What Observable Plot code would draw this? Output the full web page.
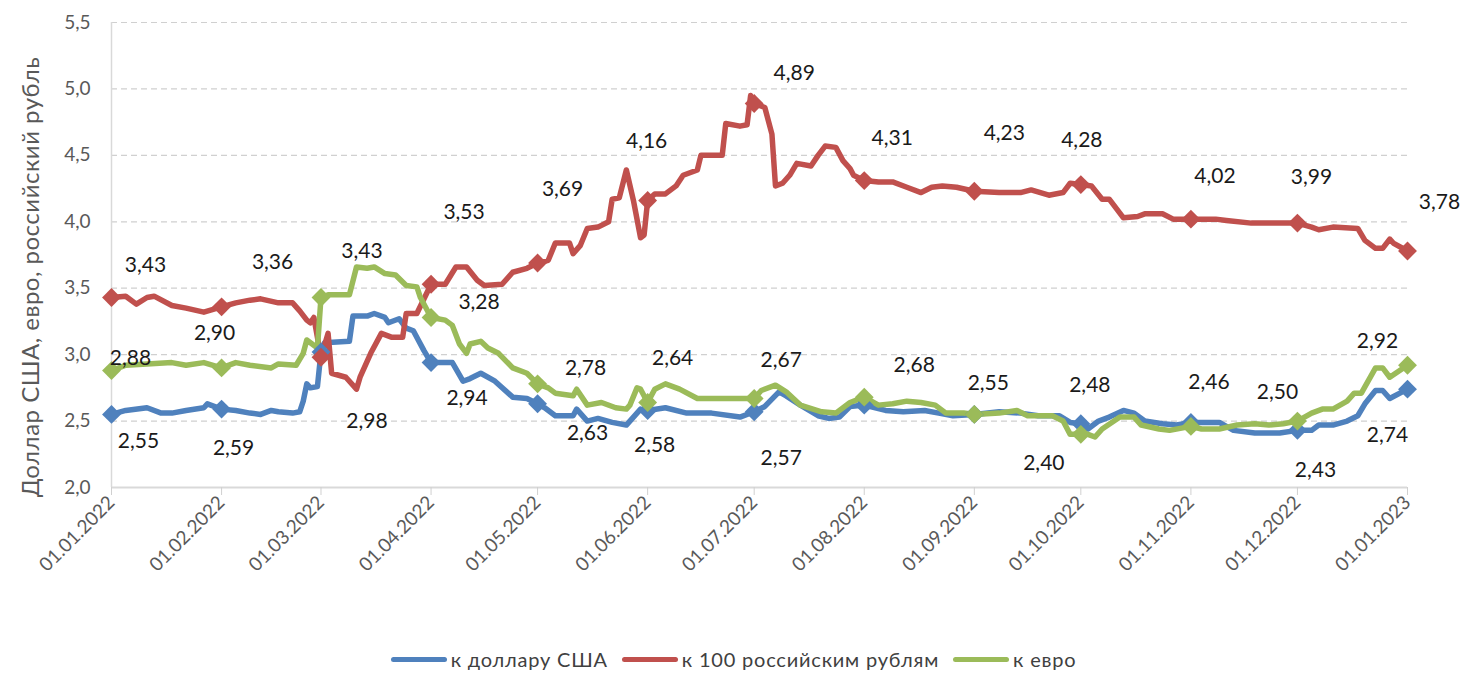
<!DOCTYPE html>
<html>
<head>
<meta charset="utf-8">
<script src="https://cdn.jsdelivr.net/npm/d3@7"></script>
<script src="https://cdn.jsdelivr.net/npm/@observablehq/plot@0.6"></script>
<style>
  html, body { margin: 0; padding: 0; background: #fff; }
  #wrap { width: 1467px; height: 673px; position: relative; font-family: Lato, "Open Sans", sans-serif; }
  #legend { position: absolute; left: 0; top: 647px; width: 1467px; display: flex; justify-content: center; align-items: center; gap: 14px; font-size: 20px; color: #404040; letter-spacing: 0.8px; }
  .item { display: flex; align-items: center; gap: 4px; }
  .sw { display: inline-block; width: 56px; height: 5px; border-radius: 3px; }
</style>
</head>
<body>
<div id="wrap"><div id="chart"></div><div id="legend"></div></div>
<script>
// ---------- DATA ----------
const seriesNames = ["к доллару США", "к 100 российским рублям", "к евро"];
const seriesColors = ["#4F81BD", "#C0504D", "#9BBB59"];
const yTicks = [2.0, 2.5, 3.0, 3.5, 4.0, 4.5, 5.0, 5.5];
const monthTicks = ["2022-01-01","2022-02-01","2022-03-01","2022-04-01","2022-05-01","2022-06-01","2022-07-01","2022-08-01","2022-09-01","2022-10-01","2022-11-01","2022-12-01","2023-01-01"];
const yAxisTitle = "Доллар США, евро, российский рубль";

const usd = [
  ["2022-01-01",2.55],["2022-01-05",2.58],["2022-01-11",2.60],["2022-01-15",2.56],["2022-01-18",2.56],["2022-01-22",2.58],["2022-01-27",2.60],["2022-01-28",2.63],
  ["2022-02-01",2.59],["2022-02-05",2.58],["2022-02-09",2.56],["2022-02-12",2.55],["2022-02-15",2.58],["2022-02-17",2.57],["2022-02-21",2.56],["2022-02-23",2.57],["2022-02-24",2.65],["2022-02-25",2.78],["2022-02-26",2.75],["2022-02-28",2.76],
  ["2022-03-01",3.02],["2022-03-02",3.09],["2022-03-09",3.10],["2022-03-10",3.29],["2022-03-14",3.29],["2022-03-16",3.31],["2022-03-19",3.28],["2022-03-20",3.24],["2022-03-23",3.27],["2022-03-25",3.20],["2022-03-27",3.18],["2022-03-30",3.03],
  ["2022-04-01",2.94],["2022-04-07",2.94],["2022-04-10",2.80],["2022-04-12",2.82],["2022-04-15",2.86],["2022-04-19",2.80],["2022-04-24",2.68],["2022-04-28",2.67],
  ["2022-05-01",2.63],["2022-05-03",2.60],["2022-05-06",2.54],["2022-05-11",2.54],["2022-05-12",2.59],["2022-05-15",2.50],["2022-05-18",2.52],["2022-05-22",2.49],["2022-05-26",2.47],["2022-05-30",2.59],
  ["2022-06-01",2.58],["2022-06-06",2.60],["2022-06-12",2.56],["2022-06-19",2.56],["2022-06-27",2.53],
  ["2022-07-01",2.57],["2022-07-04",2.61],["2022-07-08",2.72],["2022-07-10",2.69],["2022-07-14",2.62],["2022-07-19",2.54],["2022-07-22",2.52],["2022-07-25",2.53],["2022-07-28",2.61],
  ["2022-08-01",2.62],["2022-08-07",2.58],["2022-08-12",2.57],["2022-08-18",2.58],["2022-08-22",2.56],["2022-08-26",2.54],
  ["2022-09-01",2.55],["2022-09-08",2.57],["2022-09-14",2.56],["2022-09-19",2.54],["2022-09-25",2.54],["2022-09-28",2.49],
  ["2022-10-01",2.48],["2022-10-03",2.44],["2022-10-06",2.50],["2022-10-09",2.53],["2022-10-13",2.58],["2022-10-16",2.56],["2022-10-19",2.50],["2022-10-24",2.48],["2022-10-28",2.47],
  ["2022-11-01",2.49],["2022-11-04",2.49],["2022-11-09",2.49],["2022-11-13",2.43],["2022-11-19",2.41],["2022-11-26",2.41],
  ["2022-12-01",2.43],["2022-12-05",2.43],["2022-12-07",2.47],["2022-12-11",2.47],["2022-12-15",2.50],["2022-12-18",2.54],["2022-12-20",2.63],["2022-12-23",2.73],["2022-12-25",2.73],["2022-12-27",2.67],
  ["2023-01-01",2.74]
];

const rub = [
  ["2022-01-01",3.43],["2022-01-05",3.44],["2022-01-08",3.38],["2022-01-11",3.43],["2022-01-13",3.44],["2022-01-18",3.37],["2022-01-22",3.35],["2022-01-27",3.32],
  ["2022-02-01",3.36],["2022-02-05",3.39],["2022-02-09",3.41],["2022-02-12",3.42],["2022-02-17",3.39],["2022-02-21",3.39],["2022-02-23",3.33],["2022-02-25",3.26],["2022-02-26",3.24],["2022-02-27",3.28],
  ["2022-03-01",2.98],["2022-03-03",3.16],["2022-03-04",2.86],["2022-03-08",2.83],["2022-03-11",2.74],["2022-03-12",2.83],["2022-03-15",3.01],["2022-03-18",3.16],["2022-03-21",3.13],["2022-03-24",3.13],["2022-03-25",3.31],["2022-03-28",3.31],
  ["2022-04-01",3.53],["2022-04-05",3.53],["2022-04-08",3.66],["2022-04-11",3.66],["2022-04-14",3.56],["2022-04-16",3.52],["2022-04-21",3.53],["2022-04-24",3.62],["2022-04-28",3.65],
  ["2022-05-01",3.69],["2022-05-04",3.71],["2022-05-06",3.84],["2022-05-10",3.84],["2022-05-11",3.76],["2022-05-13",3.82],["2022-05-15",3.95],["2022-05-18",3.96],["2022-05-21",4.00],["2022-05-22",4.17],["2022-05-24",4.18],["2022-05-26",4.39],["2022-05-28",4.16],["2022-05-30",3.88],["2022-05-31",3.90],
  ["2022-06-01",4.16],["2022-06-03",4.21],["2022-06-06",4.21],["2022-06-09",4.27],["2022-06-11",4.35],["2022-06-15",4.39],["2022-06-16",4.50],["2022-06-22",4.50],["2022-06-23",4.74],["2022-06-27",4.72],["2022-06-29",4.73],["2022-06-30",4.95],
  ["2022-07-01",4.89],["2022-07-04",4.86],["2022-07-06",4.66],["2022-07-07",4.27],["2022-07-09",4.29],["2022-07-11",4.35],["2022-07-13",4.44],["2022-07-17",4.42],["2022-07-19",4.50],["2022-07-21",4.57],["2022-07-24",4.56],["2022-07-26",4.46],["2022-07-28",4.40],["2022-07-29",4.35],
  ["2022-08-01",4.31],["2022-08-05",4.30],["2022-08-09",4.30],["2022-08-13",4.26],["2022-08-17",4.22],["2022-08-20",4.26],["2022-08-23",4.27],["2022-08-27",4.26],
  ["2022-09-01",4.23],["2022-09-08",4.22],["2022-09-14",4.22],["2022-09-17",4.24],["2022-09-22",4.20],["2022-09-26",4.22],["2022-09-28",4.29],
  ["2022-10-01",4.28],["2022-10-04",4.27],["2022-10-07",4.17],["2022-10-09",4.17],["2022-10-13",4.03],["2022-10-17",4.04],["2022-10-19",4.06],["2022-10-24",4.06],["2022-10-27",4.02],
  ["2022-11-01",4.02],["2022-11-08",4.02],["2022-11-11",4.01],["2022-11-18",3.99],["2022-11-22",3.99],
  ["2022-12-01",3.99],["2022-12-05",3.96],["2022-12-07",3.94],["2022-12-11",3.96],["2022-12-18",3.95],["2022-12-20",3.86],["2022-12-23",3.80],["2022-12-25",3.80],["2022-12-27",3.87],["2022-12-28",3.84],
  ["2023-01-01",3.78]
];

const eur = [
  ["2022-01-01",2.88],["2022-01-05",2.92],["2022-01-11",2.93],["2022-01-18",2.94],["2022-01-22",2.92],["2022-01-27",2.94],
  ["2022-02-01",2.90],["2022-02-05",2.94],["2022-02-09",2.92],["2022-02-15",2.90],["2022-02-17",2.93],["2022-02-22",2.92],["2022-02-24",3.01],["2022-02-25",3.11],["2022-02-28",3.05],
  ["2022-03-01",3.43],["2022-03-03",3.45],["2022-03-09",3.45],["2022-03-11",3.66],["2022-03-14",3.65],["2022-03-16",3.66],["2022-03-19",3.61],["2022-03-22",3.60],["2022-03-25",3.52],["2022-03-28",3.51],["2022-03-29",3.43],
  ["2022-04-01",3.28],["2022-04-05",3.26],["2022-04-07",3.22],["2022-04-09",3.08],["2022-04-11",3.01],["2022-04-12",3.08],["2022-04-15",3.10],["2022-04-17",3.05],["2022-04-20",3.01],["2022-04-24",2.90],["2022-04-28",2.86],
  ["2022-05-01",2.78],["2022-05-04",2.75],["2022-05-06",2.71],["2022-05-11",2.69],["2022-05-12",2.74],["2022-05-15",2.62],["2022-05-19",2.64],["2022-05-23",2.60],["2022-05-26",2.59],["2022-05-27",2.62],["2022-05-29",2.75],["2022-05-30",2.74],
  ["2022-06-01",2.64],["2022-06-03",2.74],["2022-06-06",2.78],["2022-06-10",2.74],["2022-06-15",2.67],["2022-06-21",2.67],["2022-06-27",2.67],
  ["2022-07-01",2.67],["2022-07-03",2.73],["2022-07-07",2.77],["2022-07-10",2.72],["2022-07-14",2.62],["2022-07-20",2.57],["2022-07-24",2.56],["2022-07-28",2.64],
  ["2022-08-01",2.68],["2022-08-05",2.62],["2022-08-09",2.63],["2022-08-13",2.65],["2022-08-17",2.64],["2022-08-21",2.62],["2022-08-24",2.56],["2022-08-29",2.56],
  ["2022-09-01",2.55],["2022-09-08",2.56],["2022-09-13",2.58],["2022-09-16",2.54],["2022-09-23",2.54],["2022-09-26",2.50],["2022-09-28",2.40],
  ["2022-10-01",2.40],["2022-10-03",2.40],["2022-10-05",2.38],["2022-10-07",2.44],["2022-10-12",2.53],["2022-10-16",2.53],["2022-10-18",2.47],["2022-10-23",2.44],["2022-10-26",2.43],
  ["2022-11-01",2.46],["2022-11-04",2.44],["2022-11-09",2.44],["2022-11-14",2.47],["2022-11-19",2.48],["2022-11-23",2.47],["2022-11-27",2.48],
  ["2022-12-01",2.50],["2022-12-05",2.56],["2022-12-08",2.59],["2022-12-11",2.59],["2022-12-15",2.65],["2022-12-17",2.71],["2022-12-19",2.71],["2022-12-23",2.90],["2022-12-25",2.90],["2022-12-27",2.83],
  ["2023-01-01",2.92]
];

// months whose value carries a data label
const usdLabelDates = ["2022-01-01","2022-02-01","2022-04-01","2022-05-01","2022-06-01","2022-07-01","2022-10-01","2022-12-01","2023-01-01"];
const rubLabelDates = monthTicks;
const eurLabelDates = monthTicks;

// ---------- LAYOUT (label nudges in px, same order as the label dates) ----------
const usdLabelNudge = [[27,27],[12,39],[36,36],[50,29],[7,35],[27,46],[9,-38],[18,40],[-20,46]];
const rubLabelNudge = [[34,-32],[51,-45],[46,64],[33,-72],[25,-74],[-1,-59],[40,-30],[28,-42],[30,-58],[1,-44],[24,-43],[14,-46],[32,-49]];
const eurLabelNudge = [[19,-12],[-7,-35],[41,-46],[48,-15],[48,-16],[25,-44],[27,-38],[50,-32],[14,-31],[-37,29],[18,-44],[-20,-29],[-30,-24]];

// ---------- BUILD ----------
const parse = d3.utcParse("%Y-%m-%d");
const toRows = (arr) => arr.map(([d, v]) => ({date: parse(d), value: v}));
const series = [toRows(usd), toRows(rub), toRows(eur)];
const monthSet = new Set(monthTicks);
const markerRows = [usd, rub, eur].map(arr => arr.filter(([d]) => monthSet.has(d)).map(([d, v]) => ({date: parse(d), value: v})));
const fmt = v => v.toFixed(2).replace(".", ",");
const fmtY = v => v.toFixed(1).replace(".", ",");

const labelMarks = [];
[[usd, usdLabelDates, usdLabelNudge], [rub, rubLabelDates, rubLabelNudge], [eur, eurLabelDates, eurLabelNudge]].forEach(([arr, dates, nudge]) => {
  dates.forEach((d, i) => {
    const row = arr.find(r => r[0] === d);
    if (!row) return;
    labelMarks.push(Plot.text([{date: parse(d), value: row[1]}], {
      x: "date", y: "value", text: r => fmt(r.value),
      dx: nudge[i][0], dy: nudge[i][1],
      fontSize: 21, fill: "#1a1a1a", letterSpacing: "1px"
    }));
  });
});

const chart = Plot.plot({
  width: 1467, height: 615,
  marginTop: 22, marginBottom: 128, marginLeft: 111, marginRight: 60,
  style: {fontFamily: "Lato, 'Open Sans', sans-serif", background: "white", overflow: "visible"},
  x: {type: "utc", domain: [parse(monthTicks[0]), parse(monthTicks[monthTicks.length - 1])]},
  y: {domain: [2, 5.5]},
  marks: [
    Plot.gridY(yTicks.slice(1), {stroke: "#d0d0d0", strokeOpacity: 1, strokeDasharray: "6,4", strokeWidth: 1.2}),
    Plot.ruleY([2], {stroke: "#d9d9d9", strokeWidth: 2}),
    Plot.ruleX([parse(monthTicks[0])], {stroke: "#d9d9d9", strokeWidth: 1.5}),
    Plot.axisY({ticks: yTicks, tickFormat: fmtY, tickSize: 0, tickPadding: 21, fontSize: 19, fill: "#595959",
      label: yAxisTitle, labelAnchor: "center", labelOffset: 90, labelArrow: "none"}),
    Plot.axisX({ticks: monthTicks.map(parse), tickFormat: d3.utcFormat("%d.%m.%Y"), tickRotate: -45,
      tickSize: 8, tickPadding: 4, stroke: "#d0d0d0", fill: "#595959", fontSize: 19, label: null}),
    ...series.map((rows, i) => Plot.line(rows, {x: "date", y: "value", stroke: seriesColors[i], strokeWidth: 5.5, strokeLinejoin: "round", strokeLinecap: "round"})),
    ...markerRows.map((rows, i) => Plot.dot(rows, {x: "date", y: "value", symbol: "diamond2", r: 8.5, fill: seriesColors[i], stroke: "none"})),
    ...labelMarks
  ]
});
document.getElementById("chart").appendChild(chart);

// y-axis title: larger, slightly lower like the reference
d3.select(chart).selectAll('[aria-label="y-axis label"]')
  .attr("font-size", 24)
  .style("letter-spacing", "0.5px")
  .each(function () {
    const t = d3.select(this).attr("transform") || "";
    d3.select(this).attr("transform", "translate(0,22) " + t);
  });

const legend = document.getElementById("legend");
seriesNames.forEach((name, i) => {
  const it = document.createElement("div");
  it.className = "item";
  it.innerHTML = `<span class="sw" style="background:${seriesColors[i]}"></span><span>${name}</span>`;
  legend.appendChild(it);
});
</script>
</body>
</html>
